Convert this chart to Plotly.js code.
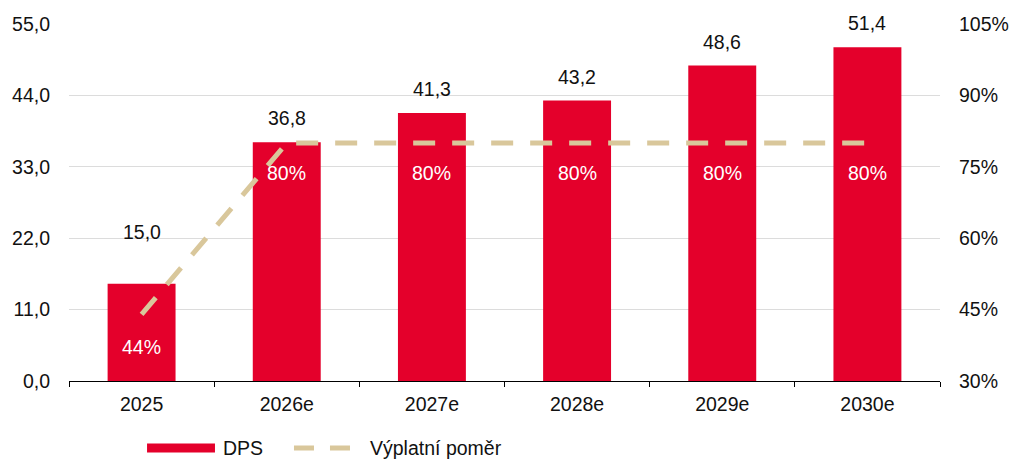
<!DOCTYPE html>
<html>
<head>
<meta charset="utf-8">
<script src="https://cdn.plot.ly/plotly-3.0.1.min.js"></script>
<style>html,body{margin:0;padding:0;background:#fff;}#chart{width:1009px;height:461px;}</style>
</head>
<body>
<div id="chart"></div>
<script>
const categories = ["2025", "2026e", "2027e", "2028e", "2029e", "2030e"];
const dps = [15.0, 36.8, 41.3, 43.2, 48.6, 51.4];
const payoutRatio = [44, 80, 80, 80, 80, 80];
const leftTicks = [0, 11, 22, 33, 44, 55];
const rightTicks = [30, 45, 60, 75, 90, 105];

const RED = "#E4002B";
const BEIGE = "#D9C79B";
const FONT = "Liberation Sans, Arial, sans-serif";
const FS = 19.5;

const fmt = v => v.toFixed(1).replace(".", ",");

const traces = [
  {
    type: "bar", x: categories, y: dps, name: "DPS",
    marker: {color: RED}, hoverinfo: "skip", showlegend: false
  },
  {
    type: "scatter", mode: "lines", x: categories, y: payoutRatio, yaxis: "y2",
    name: "Výplatní poměr",
    line: {color: BEIGE, width: 5, dash: "22px,17px"}, hoverinfo: "skip", showlegend: false
  }
];

const annotations = [];
dps.forEach((v, i) => {
  annotations.push({
    x: i, y: v, xref: "x", yref: "y", text: fmt(v),
    showarrow: false, yanchor: "middle", yshift: i === 0 ? 52 : 24,
    font: {family: FONT, size: FS, color: "#111"}
  });
});
payoutRatio.forEach((v, i) => {
  annotations.push({
    x: i, y: v, xref: "x", yref: "y2", text: v + "%",
    showarrow: false, yanchor: "middle", yshift: i === 0 ? -33 : -30,
    font: {family: FONT, size: FS, color: "#ffffff"}
  });
});
// legend texts
const LEG_Y = -0.1877;
annotations.push({xref: "paper", yref: "paper", x: 0.1745, y: LEG_Y, xanchor: "left", yanchor: "middle",
  text: "DPS", showarrow: false, font: {family: FONT, size: FS, color: "#111"}});
annotations.push({xref: "paper", yref: "paper", x: 0.3433, y: LEG_Y, xanchor: "left", yanchor: "middle",
  text: "Výplatní poměr", showarrow: false, font: {family: FONT, size: FS, color: "#111"}});

const shapes = [
  {type: "rect", xref: "paper", yref: "paper", x0: 0.0896, x1: 0.1676, y0: LEG_Y - 0.0126, y1: LEG_Y + 0.0126,
   fillcolor: RED, line: {width: 0}},
  {type: "line", xref: "paper", yref: "paper", x0: 0.2583, x1: 0.3318, y0: LEG_Y, y1: LEG_Y,
   line: {color: BEIGE, width: 5, dash: "20px,16px"}}
];

const layout = {
  width: 1009, height: 461,
  margin: {l: 69, r: 69, t: 24, b: 80},
  paper_bgcolor: "#fff", plot_bgcolor: "#fff",
  font: {family: FONT, size: FS, color: "#111"},
  bargap: 0.532,
  showlegend: false,
  xaxis: {
    type: "category", range: [-0.5, categories.length - 0.5],
    tickson: "boundaries", ticks: "outside", ticklen: 5, tickcolor: "#000",
    showline: true, linecolor: "#000", linewidth: 1, showgrid: false, tickangle: 0,
    ticklabelstandoff: 6,
    tickfont: {family: FONT, size: FS, color: "#111"}
  },
  yaxis: {
    range: [0, 55], tickvals: leftTicks, ticktext: leftTicks.map(fmt),
    showgrid: true, gridcolor: "#DCDCDC", gridwidth: 1, zeroline: false, showline: false,
    ticks: "", ticklabelstandoff: 18,
    tickfont: {family: FONT, size: FS, color: "#111"}
  },
  yaxis2: {
    overlaying: "y", side: "right", range: [30, 105],
    tickvals: rightTicks, ticktext: rightTicks.map(v => v + "%"),
    showgrid: false, zeroline: false, showline: false, ticks: "", ticklabelstandoff: 18,
    tickfont: {family: FONT, size: FS, color: "#111"}
  },
  annotations: annotations,
  shapes: shapes
};

Plotly.newPlot("chart", traces, layout, {staticPlot: true, displayModeBar: false});
</script>
</body>
</html>
